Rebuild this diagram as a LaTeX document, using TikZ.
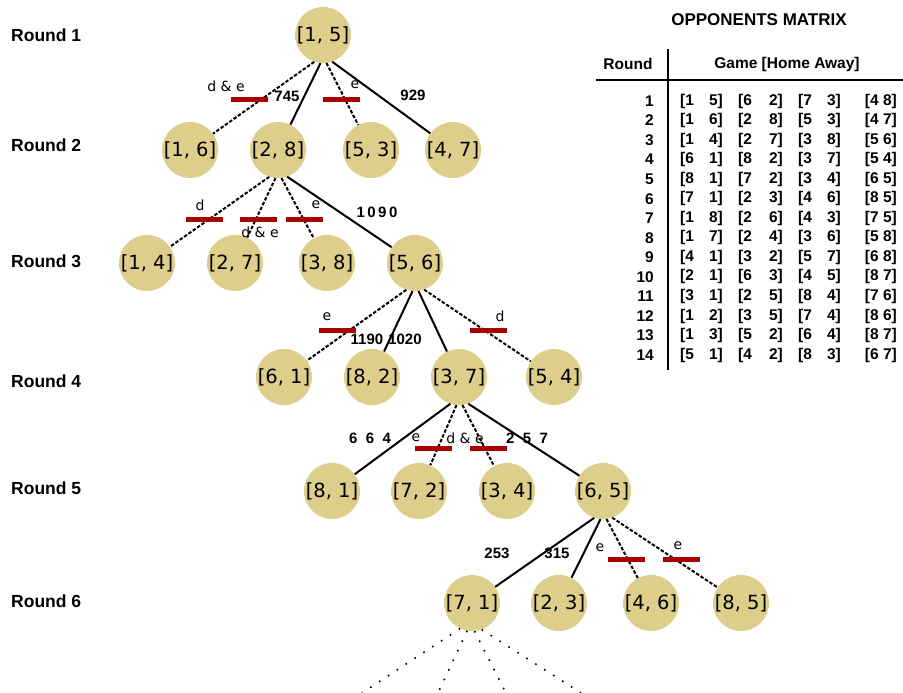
\documentclass[tikz,border=0pt]{standalone}
\usepackage{fontspec}
\setmainfont{Liberation Sans}
\newfontfamily\nodefont{DejaVu Sans}
\usetikzlibrary{calc}
\definecolor{teamtan}{RGB}{222,206,139}
\definecolor{barred}{RGB}{170,0,0}
\begin{document}
\begin{tikzpicture}[x=1pt,y=-1pt,
  team/.style={circle,fill=teamtan,minimum size=56pt,inner sep=0pt,font=\nodefont\fontsize{19.5}{19.5}\selectfont},
  solidedge/.style={line width=2pt},
  dashededge/.style={line width=2pt,dash pattern=on 3.5pt off 1.8pt},
  dotedge/.style={line width=1.6pt,dash pattern=on 1.6pt off 9pt},
  redbar/.style={rectangle,fill=barred,minimum width=37pt,minimum height=5pt,inner sep=0pt},
  numlbl/.style={font=\bfseries\fontsize{15}{15}\selectfont,inner sep=0pt},
  letterlbl/.style={font=\nodefont\fontsize{14}{14}\selectfont,inner sep=0pt},
  roundlbl/.style={font=\bfseries\fontsize{17.5}{17.5}\selectfont,inner sep=0pt,anchor=west},
  tbl/.style={font=\bfseries\fontsize{15.5}{15.5}\selectfont,inner sep=0pt},
]
\useasboundingbox (0,0) rectangle (903,693);

% round labels
\node[roundlbl] (rl1) at (11,35) {Round 1};
\node[roundlbl] (rl2) at (11,145) {Round 2};
\node[roundlbl] (rl3) at (11,261) {Round 3};
\node[roundlbl] (rl4) at (11,381) {Round 4};
\node[roundlbl] (rl5) at (11,488) {Round 5};
\node[roundlbl] (rl6) at (11,601) {Round 6};

% team nodes
\node[team] (n15) at (323,35) {[1, 5]};
\node[team] (n16) at (190,150) {[1, 6]};
\node[team] (n28) at (278,150) {[2, 8]};
\node[team] (n53) at (371,150) {[5, 3]};
\node[team] (n47) at (453,150) {[4, 7]};
\node[team] (n14) at (147,263) {[1, 4]};
\node[team] (n27) at (235,263) {[2, 7]};
\node[team] (n38) at (327,263) {[3, 8]};
\node[team] (n56) at (415,263) {[5, 6]};
\node[team] (n61) at (284,377) {[6, 1]};
\node[team] (n82) at (372,377) {[8, 2]};
\node[team] (n37) at (459,377) {[3, 7]};
\node[team] (n54) at (554,377) {[5, 4]};
\node[team] (n81) at (332,491) {[8, 1]};
\node[team] (n72) at (419,491) {[7, 2]};
\node[team] (n34) at (507,491) {[3, 4]};
\node[team] (n65) at (603,491) {[6, 5]};
\node[team] (n71) at (472,603) {[7, 1]};
\node[team] (n23) at (559,603) {[2, 3]};
\node[team] (n46) at (651,603) {[4, 6]};
\node[team] (n85) at (741,603) {[8, 5]};

% edges round 1 -> 2
\draw[dashededge] (n15.252) -- (n16);
\draw[solidedge]  (n15.265) -- (n28);
\draw[dashededge] (n15.277) -- (n53);
\draw[solidedge]  (n15.289) -- (n47);
% round 2 -> 3
\draw[dashededge] (n28.252) -- (n14);
\draw[dashededge] (n28.265) -- (n27);
\draw[dashededge] (n28.277) -- (n38);
\draw[solidedge]  (n28.289) -- (n56);
% round 3 -> 4
\draw[dashededge] (n56.252) -- (n61);
\draw[solidedge]  (n56.265) -- (n82);
\draw[solidedge]  (n56.277) -- (n37);
\draw[dashededge] (n56.289) -- (n54);
% round 4 -> 5
\draw[solidedge]  (n37.252) -- (n81);
\draw[dashededge] (n37.265) -- (n72);
\draw[dashededge] (n37.277) -- (n34);
\draw[solidedge]  (n37.289) -- (n65);
% round 5 -> 6
\draw[solidedge]  (n65.252) -- (n71);
\draw[solidedge]  (n65.265) -- (n23);
\draw[dashededge] (n65.277) -- (n46);
\draw[dashededge] (n65.289) -- (n85);
% continuation below [7,1]
\coordinate (f1) at (362,693);
\coordinate (f2) at (438,693);
\coordinate (f3) at (506,693);
\coordinate (f4) at (581,693);
\draw[dotedge] (n71.245) -- (f1);
\draw[dotedge] (n71.260) -- (f2);
\draw[dotedge] (n71.275) -- (f3);
\draw[dotedge] (n71.290) -- (f4);

% red bars
\node[redbar] (b1) at (249,100) {};
\node[redbar] (b2) at (341,100) {};
\node[redbar] (b3) at (204,219) {};
\node[redbar] (b4) at (258,219) {};
\node[redbar] (b5) at (304,219) {};
\node[redbar] (b6) at (337,330) {};
\node[redbar] (b7) at (488,330) {};
\node[redbar] (b8) at (433,448) {};
\node[redbar] (b9) at (488,448) {};
\node[redbar] (b10) at (626,559) {};
\node[redbar] (b11) at (681,559) {};

% edge labels
\node[letterlbl] (l1) at (226,86) {d \& e};
\node[numlbl] (l2) at (287,96) {745};
\node[letterlbl] (l3) at (355,85) {e};
\node[numlbl] (l4) at (413,95) {929};
\node[letterlbl] (l5) at (200,205) {d};
\node[letterlbl] (l6) at (260,232) {d \& e};
\node[letterlbl] (l7) at (316,205) {e};
\node[numlbl] (l8) at (377,212) {1\kern2.5pt0\kern2.5pt9\kern2.5pt0};
\node[letterlbl] (l9) at (327,317) {e};
\node[numlbl] (l10) at (367,339) {1190};
\node[numlbl] (l11) at (405,339) {1020};
\node[letterlbl] (l12) at (500,316) {d};
\node[numlbl] (l13) at (370,438) {6~~6~~4};
\node[letterlbl] (l14) at (416,438) {e};
\node[letterlbl] (l15) at (465,438) {d \& e};
\node[numlbl] (l16) at (527,438) {2~~5~~7};
\node[numlbl] (l17) at (497,553) {253};
\node[numlbl] (l18) at (557,553) {315};
\node[letterlbl] (l19) at (600,548) {e};
\node[letterlbl] (l20) at (678,546) {e};

% opponents matrix
\node[font=\bfseries\fontsize{17}{17}\selectfont,inner sep=0pt] (title) at (759,20) {OPPONENTS MATRIX};
\node[tbl] (hround) at (628,64) {Round};
\node[tbl] (hgame) at (787,64) {Game [Home Away]};
\draw[line width=2pt] (596,80) -- (903,80);
\draw[line width=2pt] (668,49) -- (668,370);
\foreach \a/\b/\c/\d/\e/\f/\g/\h [count=\i] in {
  1/5/6/2/7/3/4/8, 1/6/2/8/5/3/4/7, 1/4/2/7/3/8/5/6, 6/1/8/2/3/7/5/4,
  8/1/7/2/3/4/6/5, 7/1/2/3/4/6/8/5, 1/8/2/6/4/3/7/5, 1/7/2/4/3/6/5/8,
  4/1/3/2/5/7/6/8, 2/1/6/3/4/5/8/7, 3/1/2/5/8/4/7/6, 1/2/3/5/7/4/8/6,
  1/3/5/2/6/4/8/7, 5/1/4/2/8/3/6/7}{
  \pgfmathsetmacro{\yy}{101+(\i-1)*19.55}
  \node[tbl,anchor=east] (t\i r) at (654,\yy) {\i};
  \node[tbl,anchor=west] (t\i a) at (680,\yy) {[\a};
  \node[tbl,anchor=east] (t\i b) at (723,\yy) {\b]};
  \node[tbl,anchor=west] (t\i c) at (738,\yy) {[\c};
  \node[tbl,anchor=east] (t\i d) at (783,\yy) {\d]};
  \node[tbl,anchor=west] (t\i e) at (798,\yy) {[\e};
  \node[tbl,anchor=east] (t\i f) at (841,\yy) {\f]};
  \node[tbl,anchor=east] (t\i g) at (897,\yy) {[\g\ \h]};
}
\end{tikzpicture}
\end{document}
